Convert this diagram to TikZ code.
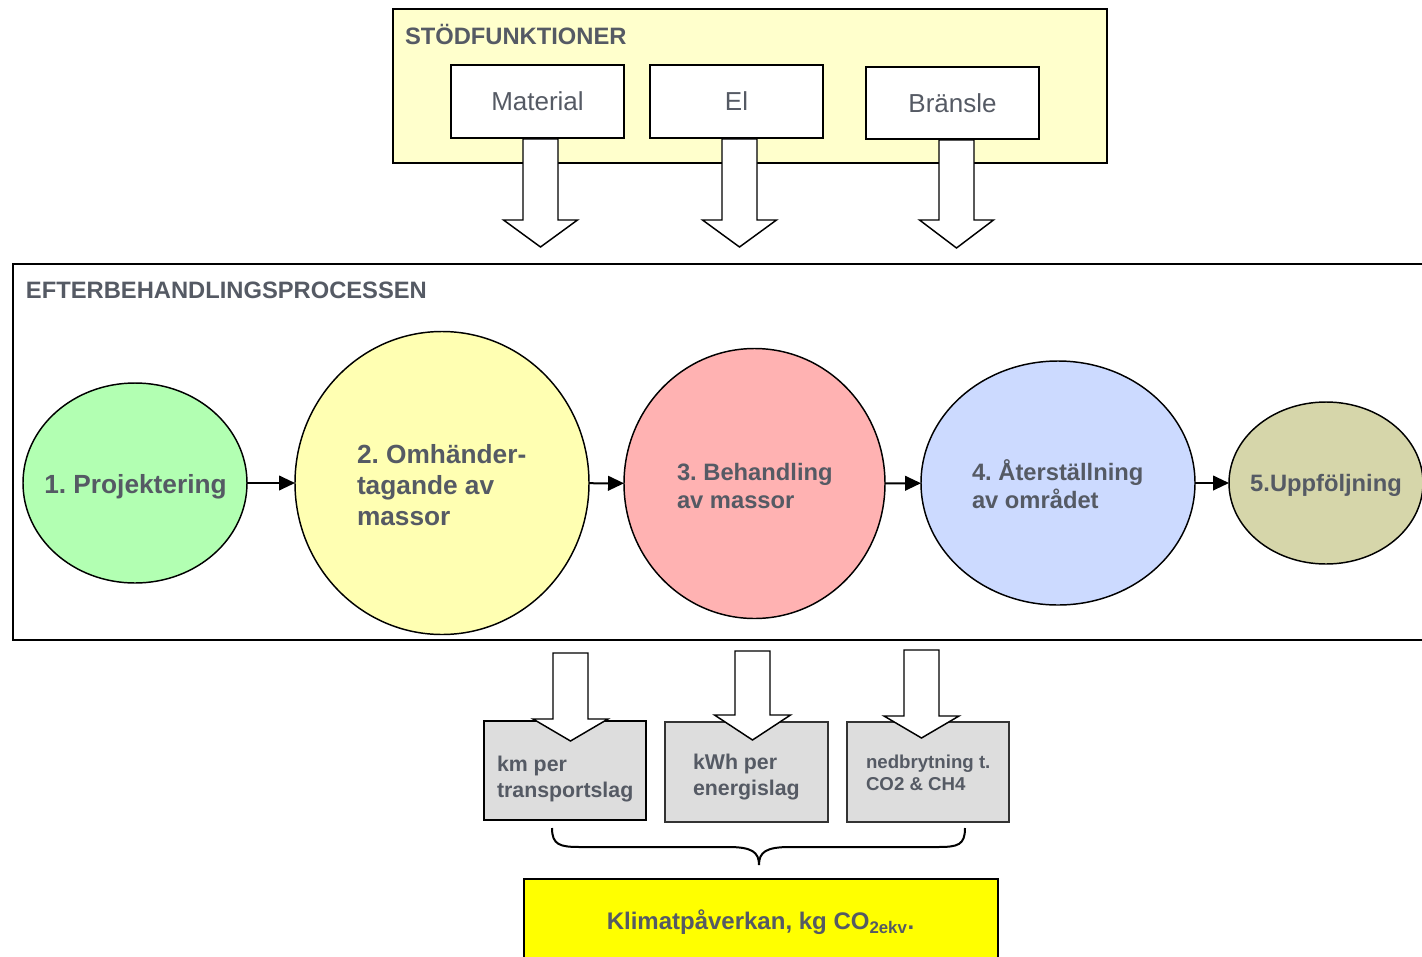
\documentclass[tikz,border=0pt]{standalone}
\usepackage{fontspec}
\setmainfont{Liberation Sans}
\usetikzlibrary{arrows.meta,shapes.geometric}
\frenchspacing
\definecolor{txt}{RGB}{85,90,100}
\definecolor{topfill}{RGB}{255,255,204}
\definecolor{cA}{RGB}{178,255,178}
\definecolor{cB}{RGB}{255,255,178}
\definecolor{cC}{RGB}{255,178,178}
\definecolor{cD}{RGB}{204,218,255}
\definecolor{cE}{RGB}{214,214,170}
\definecolor{boxgray}{RGB}{221,221,221}
\definecolor{resyellow}{RGB}{255,255,0}
\newcommand{\blockdown}[4]{%
  \draw[blk] #1 ++(-17.5,0) -- ++(0,#2) -- ++(17.5-#4,0) -- ++(#4,#3) -- ++(#4,-#3) -- ++(17.5-#4,0) -- ++(0,-#2) -- cycle;}
\begin{document}
\frenchspacing
\begin{tikzpicture}[x=0.75pt,y=-0.75pt,
  every node/.style={inner sep=0pt, outer sep=0pt},
  lbl/.style={text=txt, anchor=base west},
  headf/.style={lbl, font=\bfseries\fontsize{17.8}{21}\selectfont},
  bigf/.style={lbl, font=\bfseries\fontsize{19.7}{23}\selectfont},
  midf/.style={lbl, font=\bfseries\fontsize{17.8}{21}\selectfont},
  smallf/.style={lbl, font=\bfseries\fontsize{16}{19}\selectfont},
  tinyf/.style={lbl, font=\bfseries\fontsize{14}{17}\selectfont},
  container/.style={draw=black, line width=1.1pt},
  supbox/.style={draw=black, line width=1.1pt, fill=white, text=txt, font=\fontsize{19.5}{23}\selectfont},
  blk/.style={draw=black, line width=1.1pt, fill=white, line join=miter},
  circ/.style={ellipse, draw=black, line width=1.1pt},
  flow/.style={-{Triangle[length=12pt,width=11pt]}, line width=1.5pt},
  gbox/.style={draw=black, line width=1.1pt, fill=boxgray},
]
\useasboundingbox (0,0) rectangle (1422,957);
\clip (0,0) rectangle (1422,957);

% top container
\node[container, fill=topfill, minimum width=535.5pt, minimum height=115.5pt] (stod) at (750,86) {};
\node[headf] (stodlbl) at (405,44) {STÖDFUNKTIONER};
\node[supbox, minimum width=129.75pt, minimum height=54.75pt] (mat) at (537.5,101.5) {Material};
\node[supbox, minimum width=129.75pt, minimum height=54.75pt] (el) at (736.5,101.5) {El};
\node[supbox, minimum width=129.75pt, minimum height=54pt] (br) at (952.5,103) {Bränsle};
\blockdown{([xshift=2.25pt,yshift=-0.75pt]mat.south)}{81}{27}{37}
\blockdown{([xshift=2.25pt,yshift=-0.75pt]el.south)}{81}{27}{37}
\blockdown{([xshift=3pt,yshift=-0.75pt]br.south)}{80}{28}{37}

% process container
\node[container, minimum width=1064.25pt, minimum height=282pt] (proc) at (722.5,452) {};
\node[headf] (proclbl) at (26,298) {EFTERBEHANDLINGSPROCESSEN};

\node[circ, fill=cA, minimum width=168pt, minimum height=150pt] (e1) at (135,483) {};
\node[circ, fill=cB, minimum width=220.5pt, minimum height=227.25pt] (e2) at (442,483) {};
\node[circ, fill=cC, minimum width=195.75pt, minimum height=202.5pt] (e3) at (754.5,483.5) {};
\node[circ, fill=cD, minimum width=205.5pt, minimum height=183pt] (e4) at (1058,483) {};
\node[circ, fill=cE, minimum width=145.5pt, minimum height=121.5pt] (e5) at (1326,483) {};

\draw[flow] (e1) -- (e2);
\draw[flow] (e2) -- (e3);
\draw[flow] (e3) -- (e4);
\draw[flow] (e4) -- (e5);

\node[bigf, anchor=base] (t1) at (135.5,493) {1. Projektering};
\node[bigf] (t2a) at (357,463) {2. Omhänder-};
\node[bigf] (t2b) at (357,494) {tagande av};
\node[bigf] (t2c) at (357,525) {massor};
\node[midf] (t3a) at (677,480) {3. Behandling};
\node[midf] (t3b) at (677,508) {av massor};
\node[midf] (t4a) at (972,480) {4. Återställning};
\node[midf] (t4b) at (972,508) {av området};
\node[midf, anchor=base] (t5) at (1326,491) {5.Uppföljning};

% result boxes
\node[gbox, line width=1.5pt, minimum width=121.5pt, minimum height=74.25pt] (g1) at (565,770.5) {};
\node[gbox, draw=black!80, minimum width=122.25pt, minimum height=75pt] (g2) at (746.5,772) {};
\node[gbox, draw=black!80, minimum width=121.5pt, minimum height=75pt] (g3) at (928,772) {};

\coordinate (a1) at (570.5,653);
\coordinate (a2) at (752.5,651);
\coordinate (a3) at (921.5,650);
\blockdown{(a1)}{66}{22}{37.5}
\blockdown{(a2)}{64}{25}{38}
\blockdown{(a3)}{66}{22}{37.5}

\node[smallf] (g1a) at (497,771) {km per};
\node[smallf] (g1b) at (497,797) {transportslag};
\node[smallf] (g2a) at (693,769) {kWh per};
\node[smallf] (g2b) at (693,795) {energislag};
\node[tinyf] (g3a) at (866,768) {nedbrytning t.};
\node[tinyf] (g3b) at (866,790) {CO2 \& CH4};

% brace
\draw[line width=1.5pt] (552,828) .. controls (552,845) and (560,847) .. (580,847) -- (728,847)
  .. controls (752,847) and (759,852) .. (759,865)
  .. controls (759,852) and (766,847) .. (790,847) -- (938,847)
  .. controls (958,847) and (965,845) .. (965,828);

% result
\node[draw=black, line width=2.2pt, fill=resyellow, minimum width=355.5pt, minimum height=68.25pt] (res) at (761,924.5) {};
\node[text=txt, font=\bfseries\fontsize{18}{21}\selectfont, anchor=base] (reslbl) at (760.5,929) {Klimatpåverkan, kg CO\textsubscript{2ekv}.};
\end{tikzpicture}
\end{document}
